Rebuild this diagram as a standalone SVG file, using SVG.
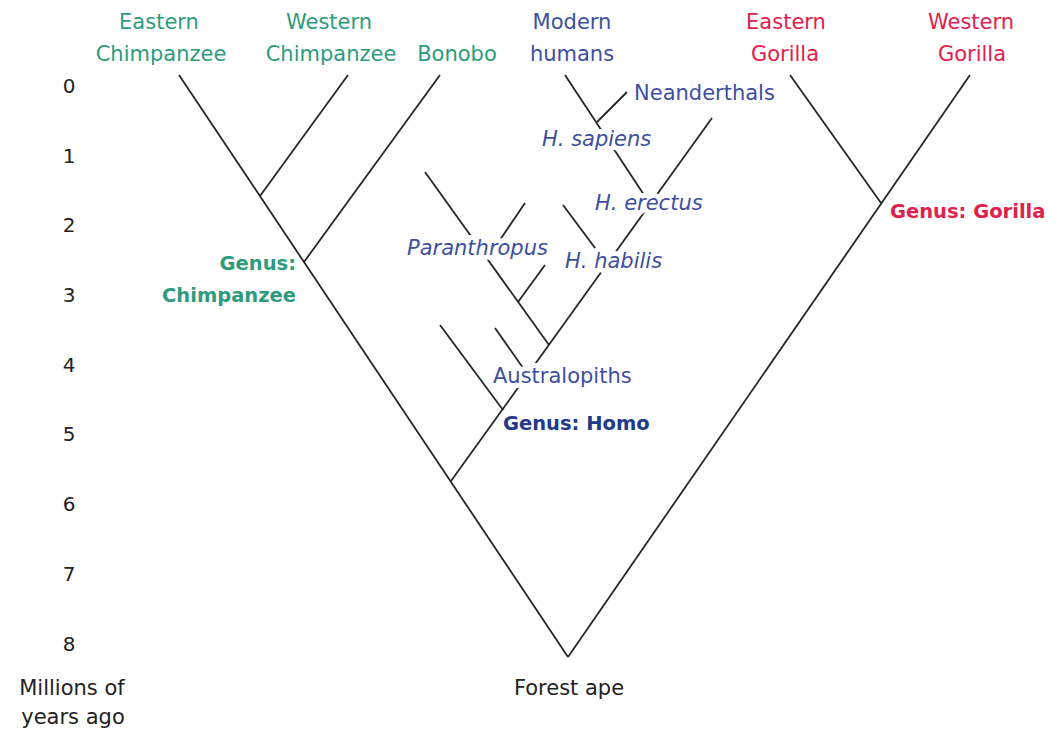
<svg xmlns="http://www.w3.org/2000/svg" width="1063" height="735" viewBox="0 0 1063 735">
<style>
  .ln { stroke: #262626; stroke-width: 1.8; fill: none; stroke-linecap: butt; }
  text { font-family: "DejaVu Sans", "Open Sans", sans-serif; font-size: 21px; }
  .halo { paint-order: stroke; stroke: #ffffff; stroke-width: 10px; stroke-linejoin: round; }
  .chimp { fill: #2e9c7c; }
  .human { fill: #3d4f9f; }
  .gor { fill: #e2204d; }
  .blk { fill: #222222; }
  .it { font-style: italic; }
  .bold { font-weight: bold; font-size: 19.5px; }
  .mid { text-anchor: middle; }
  .num { fill: #222222; text-anchor: middle; font-size: 20px; }
</style>
<rect width="1063" height="735" fill="#ffffff"/>
<g id="connectors">
  <line class="ln" x1="568" y1="657" x2="179" y2="75"/>
  <line class="ln" x1="260" y1="196" x2="348" y2="75"/>
  <line class="ln" x1="304" y1="262" x2="440" y2="75"/>
  <line class="ln" x1="451" y1="481" x2="712" y2="118"/>
  <line class="ln" x1="503" y1="410" x2="440" y2="325"/>
  <line class="ln" x1="528" y1="375" x2="495" y2="328"/>
  <line class="ln" x1="549" y1="345" x2="425" y2="172"/>
  <line class="ln" x1="487" y1="259" x2="525" y2="203"/>
  <line class="ln" x1="518" y1="302" x2="545" y2="265"/>
  <line class="ln" x1="607" y1="264" x2="563" y2="205"/>
  <line class="ln" x1="650" y1="204" x2="565" y2="75"/>
  <line class="ln" x1="597" y1="122" x2="627" y2="92"/>
  <line class="ln" x1="568" y1="657" x2="970" y2="75"/>
  <line class="ln" x1="881" y1="203" x2="790" y2="75"/>
</g>
<g id="axis">
  <text class="num" x="69" y="93">0</text>
  <text class="num" x="69" y="163">1</text>
  <text class="num" x="69" y="232">2</text>
  <text class="num" x="69" y="302">3</text>
  <text class="num" x="69" y="372">4</text>
  <text class="num" x="69" y="441">5</text>
  <text class="num" x="69" y="511">6</text>
  <text class="num" x="69" y="581">7</text>
  <text class="num" x="69" y="651">8</text>
  <text class="blk mid" x="72" y="695">Millions of</text>
  <text class="blk mid" x="73" y="724">years ago</text>
</g>
<g id="eastern-chimpanzee"><text class="chimp mid" x="159" y="29">Eastern</text><text class="chimp mid" x="161" y="61">Chimpanzee</text></g>
<g id="western-chimpanzee"><text class="chimp mid" x="329" y="29">Western</text><text class="chimp mid" x="331" y="61">Chimpanzee</text></g>
<g id="bonobo"><text class="chimp mid" x="457" y="61">Bonobo</text></g>
<g id="modern-humans"><text class="human mid" x="572" y="29">Modern</text><text class="human mid" x="572" y="61">humans</text></g>
<g id="eastern-gorilla"><text class="gor mid" x="786" y="29">Eastern</text><text class="gor mid" x="785" y="61">Gorilla</text></g>
<g id="western-gorilla"><text class="gor mid" x="971" y="29">Western</text><text class="gor mid" x="972" y="61">Gorilla</text></g>
<g id="neanderthals"><text class="human halo" x="634" y="100">Neanderthals</text></g>
<g id="h-sapiens"><text class="human it halo" x="542" y="146">H. sapiens</text></g>
<g id="h-erectus"><text class="human it halo" x="595" y="210">H. erectus</text></g>
<g id="paranthropus"><text class="human it halo" x="407" y="255">Paranthropus</text></g>
<g id="h-habilis"><text class="human it halo" x="565" y="268">H. habilis</text></g>
<g id="australopiths"><text class="human halo" x="493" y="383">Australopiths</text></g>
<g id="genus-homo"><text class="bold halo" fill="#213a8a" x="503" y="430">Genus: Homo</text></g>
<g id="genus-chimpanzee"><text class="chimp bold halo" text-anchor="end" x="296" y="270">Genus:</text><text class="chimp bold halo" text-anchor="end" x="296" y="302">Chimpanzee</text></g>
<g id="genus-gorilla"><text class="gor bold halo" x="890" y="218">Genus: Gorilla</text></g>
<g id="forest-ape"><text class="blk mid" x="569" y="695">Forest ape</text></g>
</svg>
